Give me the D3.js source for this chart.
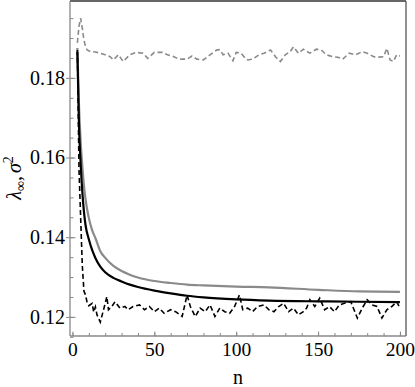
<!DOCTYPE html>
<html>
<head>
<meta charset="utf-8">
<script src="https://cdn.jsdelivr.net/npm/d3@7"></script>
<style>
  body { margin: 0; background: #fff; }
  svg { display: block; }
  svg text { font-family: "Liberation Serif", "Times New Roman", serif !important; }
</style>
</head>
<body>
<svg id="chart"></svg>
<script>
// smooth curves (lambda_inf)
const nSmooth = [3, 4, 5, 6, 7, 8, 10, 12, 14, 17, 20, 25, 30, 35, 40, 50, 60, 70, 80, 100, 120, 150, 175, 200];
const lambdaBlack = [0.1865, 0.168, 0.1585, 0.1515, 0.1465, 0.143, 0.1395, 0.1368, 0.1348, 0.1326, 0.1312, 0.1298, 0.1289, 0.1281, 0.1275, 0.1266, 0.1259, 0.1253, 0.1249, 0.1244, 0.1241, 0.1239, 0.1238, 0.1237];
const lambdaGray = [0.1875, 0.173, 0.164, 0.158, 0.153, 0.1495, 0.1448, 0.1418, 0.1398, 0.1365, 0.1348, 0.1328, 0.1315, 0.1306, 0.1299, 0.1290, 0.1285, 0.1281, 0.1279, 0.1276, 0.1274, 0.1268, 0.1264, 0.1263];

// noisy sigma^2, gray dashed
const nGrayDash = [3, 4, 5, 6, 7, 8, 9, 11, 14, 17, 20, 23, 25, 28, 31, 35, 39, 43, 46, 50, 55, 58, 62, 65, 70, 73, 76, 80, 84, 88, 90, 92, 95, 98, 100, 103, 105, 107, 110, 114, 117, 121, 124, 127, 130, 133, 135, 138, 141, 145, 149, 152, 155, 159, 162, 165, 169, 173, 177, 180, 184, 187, 190, 192, 194, 196, 198, 200];
const sigmaGray = [0.1888, 0.193, 0.195, 0.1925, 0.1895, 0.1878, 0.187, 0.1866, 0.1865, 0.1862, 0.1858, 0.1853, 0.1845, 0.1858, 0.1841, 0.1858, 0.1864, 0.1862, 0.1849, 0.1864, 0.1864, 0.1858, 0.1853, 0.1847, 0.1847, 0.1855, 0.1847, 0.1845, 0.1858, 0.187, 0.1871, 0.1858, 0.1862, 0.1843, 0.1864, 0.1862, 0.1852, 0.1845, 0.1847, 0.1858, 0.1862, 0.187, 0.1853, 0.1841, 0.1858, 0.1866, 0.1878, 0.1862, 0.1872, 0.1862, 0.1872, 0.187, 0.1858, 0.1853, 0.1852, 0.1847, 0.1862, 0.1858, 0.1866, 0.1862, 0.1853, 0.1852, 0.1853, 0.1874, 0.1845, 0.1841, 0.1858, 0.1855];

// noisy sigma^2, black dashed
const nBlackDash = [3, 4, 5, 6, 7, 8, 9, 10, 12, 13, 14, 15, 17, 19, 21, 22, 24, 26, 29, 32, 34, 37, 41, 44, 47, 50, 53, 56, 60, 63, 67, 70, 72, 75, 78, 81, 84, 87, 90, 93, 96, 99, 102, 104, 107, 110, 113, 117, 120, 123, 126, 129, 132, 135, 138, 141, 143, 145, 148, 151, 154, 157, 160, 163, 166, 170, 174, 177, 180, 183, 186, 189, 192, 195, 198, 200];
const sigmaBlack = [0.187, 0.157, 0.145, 0.133, 0.1265, 0.1255, 0.1235, 0.1228, 0.1234, 0.1212, 0.1225, 0.1205, 0.1187, 0.1218, 0.1251, 0.1218, 0.1226, 0.1238, 0.1222, 0.1226, 0.1218, 0.1226, 0.123, 0.1218, 0.1226, 0.1213, 0.1222, 0.1209, 0.1218, 0.1213, 0.1201, 0.1255, 0.1226, 0.1201, 0.1222, 0.1213, 0.123, 0.1201, 0.1222, 0.1213, 0.1209, 0.1226, 0.1255, 0.1218, 0.1222, 0.1213, 0.1226, 0.123, 0.1218, 0.1213, 0.1226, 0.1234, 0.1213, 0.1222, 0.1205, 0.1213, 0.1222, 0.1243, 0.1226, 0.1247, 0.1218, 0.1226, 0.1213, 0.123, 0.1234, 0.1238, 0.1197, 0.1222, 0.1243, 0.123, 0.1226, 0.1197, 0.1218, 0.1226, 0.1238, 0.1222];

const xTicks = [0, 50, 100, 150, 200];
const yTicks = [0.12, 0.14, 0.16, 0.18];
const serif = "Liberation Serif";

// Set the size
let width = 415;
let height = 387;
let pLeft = 70, pRight = 406, pTop = 1, pBottom = 336;
let svg = d3.select("#chart").attr("width", width).attr("height", height);

let xScale = d3.scaleLinear().domain([-1.5, 203.7]).range([pLeft, pRight]);
let yScale = d3.scaleLinear().domain([0.1152, 0.1993]).range([pBottom, pTop]);

// minor ticks
svg.append("g")
  .attr("transform", "translate(" + pLeft + ",0)")
  .call(d3.axisLeft(yScale).tickValues(d3.range(0.115, 0.1995, 0.005)).tickSize(-3.5).tickFormat(""))
  .call((g) => g.select(".domain").remove())
  .selectAll("line").attr("stroke", "#888");
svg.append("g")
  .attr("transform", "translate(0," + pBottom + ")")
  .call(d3.axisBottom(xScale).tickValues(d3.range(0, 201, 10)).tickSize(-3).tickFormat(""))
  .call((g) => g.select(".domain").remove())
  .selectAll("line").attr("stroke", "#888");

// major ticks + labels
let yAxis = svg.append("g")
  .attr("transform", "translate(" + pLeft + ",0)")
  .call(d3.axisLeft(yScale).tickValues(yTicks).tickSize(-5.5).tickPadding(5).tickFormat(d3.format(".2f")));
yAxis.attr("font-family", serif);
yAxis.select(".domain").remove();
yAxis.selectAll("line").attr("x1", -4).attr("stroke", "#888");
yAxis.selectAll("text").attr("font-size", 20).attr("fill", "#000");

let xAxis = svg.append("g")
  .attr("transform", "translate(0," + pBottom + ")")
  .call(d3.axisBottom(xScale).tickValues(xTicks).tickSize(-4.5).tickPadding(6));
xAxis.attr("font-family", serif);
xAxis.select(".domain").remove();
xAxis.selectAll("line").attr("stroke", "#888");
xAxis.selectAll("text").attr("font-size", 19.5).attr("fill", "#000");

// frame
svg.append("line").attr("x1", pLeft).attr("x2", pRight).attr("y1", pTop).attr("y2", pTop).attr("stroke", "#333").attr("stroke-width", 1.3);
svg.append("line").attr("x1", pRight).attr("x2", pRight).attr("y1", pTop).attr("y2", pBottom).attr("stroke", "#555").attr("stroke-width", 1.3);
svg.append("line").attr("x1", pLeft).attr("x2", pLeft).attr("y1", pTop).attr("y2", pBottom).attr("stroke", "#888").attr("stroke-width", 1.3);
svg.append("line").attr("x1", pLeft).attr("x2", pRight).attr("y1", pBottom).attr("y2", pBottom).attr("stroke", "#888").attr("stroke-width", 1.3);

// lines
const toPts = (ns, vs) => ns.map((n, i) => [n, vs[i]]);
let smoothLine = d3.line().x((d) => xScale(d[0])).y((d) => yScale(d[1])).curve(d3.curveMonotoneX);
let rawLine = d3.line().x((d) => xScale(d[0])).y((d) => yScale(d[1]));

svg.append("path").attr("d", rawLine(toPts(nGrayDash, sigmaGray)))
  .attr("fill", "none").attr("stroke", "#8a8a8a").attr("stroke-width", 1.6).attr("stroke-dasharray", "5,3");
svg.append("path").attr("d", smoothLine(toPts(nSmooth, lambdaGray)))
  .attr("fill", "none").attr("stroke", "#8a8a8a").attr("stroke-width", 2.2);
svg.append("path").attr("d", rawLine(toPts(nBlackDash, sigmaBlack)))
  .attr("fill", "none").attr("stroke", "#000").attr("stroke-width", 1.6).attr("stroke-dasharray", "5,3");
svg.append("path").attr("d", smoothLine(toPts(nSmooth, lambdaBlack)))
  .attr("fill", "none").attr("stroke", "#000").attr("stroke-width", 2.2);

// axis titles
svg.append("text").attr("x", 238).attr("y", 384).attr("text-anchor", "middle")
  .attr("font-family", serif).attr("font-size", 20).text("n");

let yl = svg.append("text")
  .attr("transform", "translate(21,178) rotate(-90)")
  .attr("text-anchor", "middle").attr("font-family", serif).attr("font-size", 20);
yl.append("tspan").attr("font-style", "italic").text("λ");
yl.append("tspan").attr("font-size", 14).attr("dy", 4).text("∞");
yl.append("tspan").attr("dy", -4).text(",");
yl.append("tspan").attr("font-style", "italic").attr("dx", 3).text("σ");
yl.append("tspan").attr("font-size", 14).attr("dy", -8).text("2");
</script>
</body>
</html>
